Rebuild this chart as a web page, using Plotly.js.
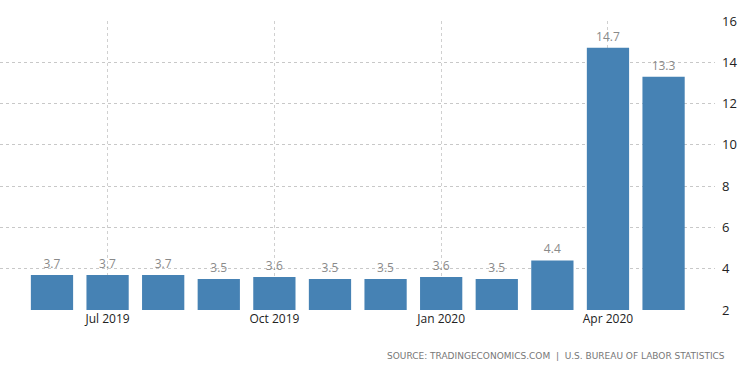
<!DOCTYPE html>
<html>
<head>
<meta charset="utf-8">
<script src="https://cdn.plot.ly/plotly-3.0.1.min.js"></script>
<style>html,body{margin:0;padding:0;background:#fff;}#chart{width:750px;height:373px;}</style>
</head>
<body>
<div id="chart"></div>
<script>
var months = ['Jun 2019','Jul 2019','Aug 2019','Sep 2019','Oct 2019','Nov 2019','Dec 2019','Jan 2020','Feb 2020','Mar 2020','Apr 2020','May 2020'];
var rates = [3.7, 3.7, 3.7, 3.5, 3.6, 3.5, 3.5, 3.6, 3.5, 4.4, 14.7, 13.3];
var xTicks = ['Jul 2019','Oct 2019','Jan 2020','Apr 2020'];
var yTicks = [2, 4, 6, 8, 10, 12, 14, 16];
var sourceText = 'SOURCE: TRADINGECONOMICS.COM  |  U.S. BUREAU OF LABOR STATISTICS';

var trace = {
  type: 'bar',
  x: months,
  y: rates,
  marker: {color: '#4682b4'},
  text: rates.map(function(v){return v.toFixed(1);}),
  textposition: 'outside',
  cliponaxis: false,
  textfont: {family: 'Open Sans, sans-serif', size: 12, color: '#8a8a8a'},
  hoverinfo: 'x+y'
};

var layout = {
  width: 750, height: 373,
  margin: {l: 0, r: 35, t: 21, b: 63},
  paper_bgcolor: '#fff', plot_bgcolor: '#fff',
  bargap: 0.24,
  showlegend: false,
  font: {family: 'Open Sans, sans-serif', color: '#333'},
  xaxis: {
    type: 'category',
    range: [-0.935, 11.925],
    tickmode: 'array',
    tickvals: xTicks,
    ticktext: xTicks,
    showgrid: true,
    gridcolor: '#d0d0d0',
    griddash: 'dot',
    gridwidth: 1,
    zeroline: false,
    showline: false,
    ticks: '',
    tickfont: {size: 12, color: '#222'}
  },
  yaxis: {
    side: 'right',
    range: [2, 16],
    tickmode: 'array',
    tickvals: yTicks,
    showgrid: true,
    gridcolor: '#c8c8c8',
    griddash: 'dot',
    gridwidth: 1,
    zeroline: false,
    showline: false,
    ticks: '',
    ticklabelstandoff: 6,
    tickfont: {size: 13, color: '#222'}
  },
  annotations: [{
    xref: 'paper', yref: 'paper',
    x: 1.017, y: -0.16,
    xanchor: 'right', yanchor: 'middle',
    showarrow: false,
    text: sourceText,
    font: {size: 9, color: '#777', family: 'DejaVu Sans, sans-serif'}
  }]
};

Plotly.newPlot('chart', [trace], layout, {displayModeBar: false, staticPlot: true});
</script>
</body>
</html>
